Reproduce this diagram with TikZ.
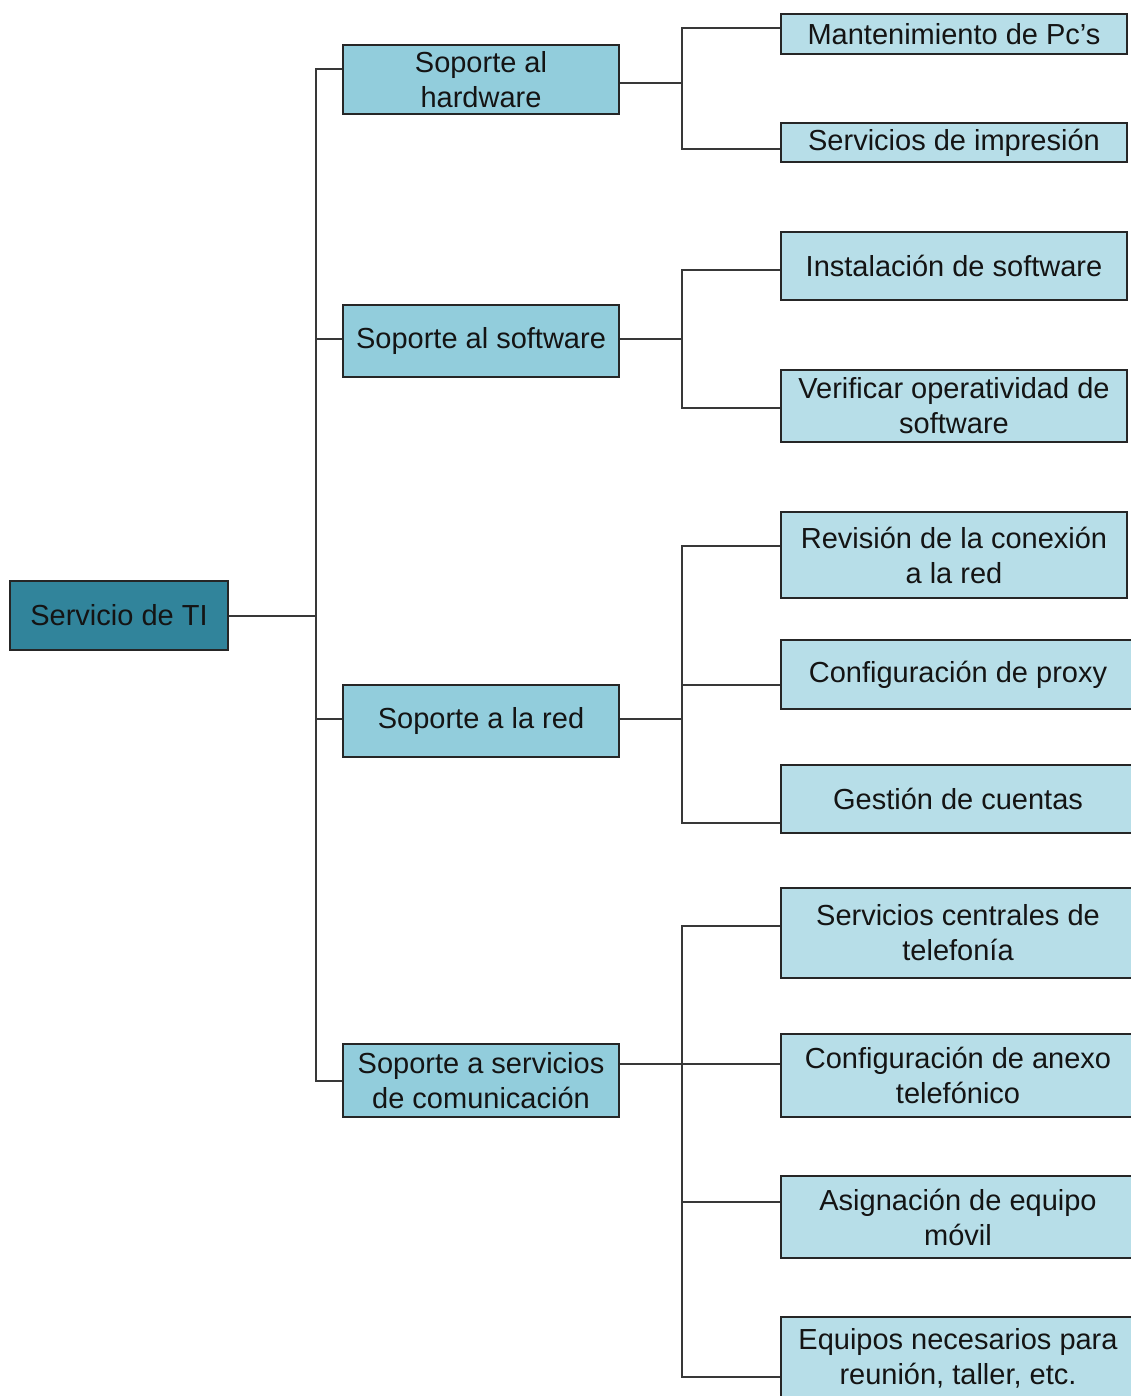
\documentclass[tikz,border=0pt]{standalone}
\usepackage{fontspec}
\setmainfont{Liberation Sans}
\definecolor{rootfill}{HTML}{31849B}
\definecolor{midfill}{HTML}{92CDDC}
\definecolor{leaffill}{HTML}{B7DEE8}
\definecolor{edge}{HTML}{262626}
\definecolor{wire}{HTML}{383838}
\definecolor{ink}{HTML}{141414}
\begin{document}
\begin{tikzpicture}[x=1pt,y=-1pt,
  box/.style={draw=edge, line width=2pt, inner sep=0pt, align=center, text=ink,
    font=\fontsize{29}{35}\selectfont},
  rootbox/.style={box, fill=rootfill, minimum width=218pt},
  midbox/.style={box, fill=midfill, minimum width=276pt},
  leafbox/.style={box, fill=leaffill, minimum width=346pt},
  wideleaf/.style={box, fill=leaffill, minimum width=354pt},
  link/.style={draw=wire, line width=2pt}]
\useasboundingbox (0,0) rectangle (1131,1396);

% root
\node[rootbox, minimum height=69pt] (ti) at (119,615.5) {Servicio de TI};

% first level
\node[midbox, minimum height=69pt] (hw) at (481,79.5) {Soporte al\\hardware};
\node[midbox, minimum height=72pt] (sw) at (481,341) {Soporte al software};
\node[midbox, minimum height=72pt] (rd) at (481,721) {Soporte a la red};
\node[midbox, minimum height=73pt] (cm) at (481,1080.5) {Soporte a servicios\\de comunicación};

% second level
\node[leafbox, minimum height=40pt] (m1) at (954,34) {Mantenimiento de Pc’s};
\node[leafbox, minimum height=39pt] (m2) at (954,142.5) {Servicios de impresión};
\node[leafbox, minimum height=68pt] (s1) at (954,266) {Instalación de software};
\node[leafbox, minimum height=72pt] (s2) at (954,406) {Verificar operatividad de\\software};
\node[leafbox, minimum height=86pt] (r1) at (954,555) {Revisión de la conexión\\a la red};
\node[wideleaf, minimum height=69pt] (r2) at (958,674.5) {Configuración de proxy};
\node[wideleaf, minimum height=68pt] (r3) at (958,799) {Gestión de cuentas};
\node[wideleaf, minimum height=90pt] (c1) at (958,933) {Servicios centrales de\\telefonía};
\node[wideleaf, minimum height=83pt] (c2) at (958,1075.5) {Configuración de anexo\\telefónico};
\node[wideleaf, minimum height=82pt] (c3) at (958,1217) {Asignación de equipo\\móvil};
\node[wideleaf, minimum height=82pt] (c4) at (958,1358) {Equipos necesarios para\\reunión, taller, etc.};

% root to first level
\draw[link] (ti.east) -- ++(87,0) |- ([yshift=10.5pt]hw.west);
\draw[link] (ti.east) -- ++(87,0) |- ([yshift=2pt]sw.west);
\draw[link] (ti.east) -- ++(87,0) |- ([yshift=2pt]rd.west);
\draw[link] (ti.east) -- ++(87,0) |- (cm.west);

% hardware branch
\draw[link] ([yshift=-3.5pt]hw.east) -- ++(62,0) |- ([yshift=6pt]m1.west);
\draw[link] ([yshift=-3.5pt]hw.east) -- ++(62,0) |- ([yshift=-6.5pt]m2.west);

% software branch
\draw[link] ([yshift=2pt]sw.east) -- ++(62,0) |- ([yshift=-4pt]s1.west);
\draw[link] ([yshift=2pt]sw.east) -- ++(62,0) |- ([yshift=-2pt]s2.west);

% network branch
\draw[link] ([yshift=2pt]rd.east) -- ++(62,0) |- ([yshift=9pt]r1.west);
\draw[link] ([yshift=2pt]rd.east) -- ++(62,0) |- ([yshift=-10.5pt]r2.west);
\draw[link] ([yshift=2pt]rd.east) -- ++(62,0) |- ([yshift=-24pt]r3.west);

% communication branch
\draw[link] ([yshift=16.5pt]cm.east) -- ++(62,0) |- ([yshift=7pt]c1.west);
\draw[link] ([yshift=16.5pt]cm.east) -- ++(62,0) |- ([yshift=11.5pt]c2.west);
\draw[link] ([yshift=16.5pt]cm.east) -- ++(62,0) |- ([yshift=15pt]c3.west);
\draw[link] ([yshift=16.5pt]cm.east) -- ++(62,0) |- ([yshift=-19pt]c4.west);
\end{tikzpicture}
\end{document}
